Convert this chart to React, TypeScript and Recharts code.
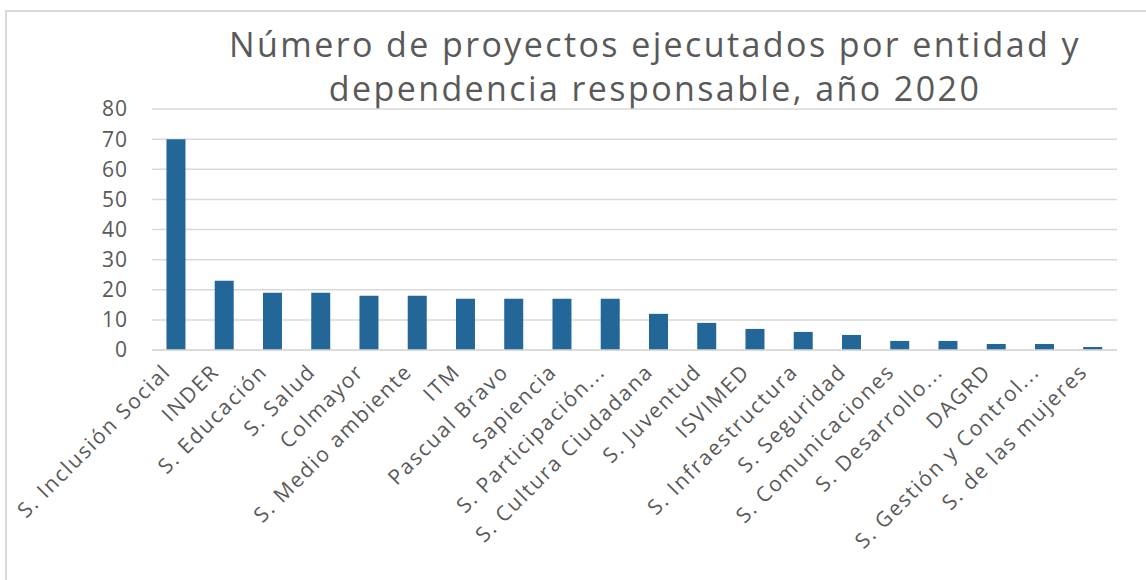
import { BarChart, Bar, XAxis, YAxis, CartesianGrid } from 'recharts';

const categories = [
  'S. Inclusión Social',
  'INDER',
  'S. Educación',
  'S. Salud',
  'Colmayor',
  'S. Medio ambiente',
  'ITM',
  'Pascual Bravo',
  'Sapiencia',
  'S. Participación...',
  'S. Cultura Ciudadana',
  'S. Juventud',
  'ISVIMED',
  'S. Infraestructura',
  'S. Seguridad',
  'S. Comunicaciones',
  'S. Desarrollo...',
  'DAGRD',
  'S. Gestión y Control...',
  'S. de las mujeres',
];

const proyectos = [70, 23, 19, 19, 18, 18, 17, 17, 17, 17, 12, 9, 7, 6, 5, 3, 3, 2, 2, 1];

const yTicks = [0, 10, 20, 30, 40, 50, 60, 70, 80];

const titleLines = [
  'Número de proyectos ejecutados por entidad y',
  'dependencia responsable, año 2020',
];

const data = categories.map((name, i) => ({ name, value: proyectos[i] }));

const font = '"Open Sans", "DejaVu Sans", sans-serif';
const textColor = '#595959';

// rotated category label, anchored at its end under the bar
function AngledTick(props: any) {
  const { x, y, payload } = props;
  const ax = x - 4;
  const ay = y + 15;
  return (
    <text
      x={ax}
      y={ay}
      transform={`rotate(-45, ${ax}, ${ay})`}
      textAnchor="end"
      fill={textColor}
      fontSize={21}
      letterSpacing={1.8}
      fontFamily={font}
    >
      {payload.value}
    </text>
  );
}

export default function App() {
  return (
    <div
      style={{
        position: 'fixed',
        left: 0,
        top: 0,
        width: 1146,
        height: 580,
        overflow: 'hidden',
        background: '#fff',
      }}
    >
      <div
        style={{
          position: 'absolute',
          left: 5,
          top: 10,
          width: 1300,
          height: 700,
          border: '2px solid #d9d9d9',
        }}
      />
      <div
        style={{
          position: 'absolute',
          left: 195,
          top: 22,
          width: 920,
          textAlign: 'center',
          fontFamily: font,
          fontSize: 34,
          letterSpacing: 2.4,
          lineHeight: '44px',
          color: textColor,
        }}
      >
        {titleLines.map((t) => (
          <div key={t}>{t}</div>
        ))}
      </div>
      <div style={{ position: 'absolute', left: 0, top: 0 }}>
        <BarChart
          width={1146}
          height={580}
          data={data}
          margin={{ top: 109, right: 29, bottom: 0, left: 0 }}
          barCategoryGap="30%"
        >
          <CartesianGrid vertical={false} stroke="#d9d9d9" strokeWidth={1.5} />
          <XAxis
            dataKey="name"
            interval={0}
            height={230}
            tick={<AngledTick />}
            tickLine={false}
            axisLine={{ stroke: '#d9d9d9', strokeWidth: 1.5 }}
          />
          <YAxis
            width={152}
            domain={[0, 80]}
            ticks={yTicks}
            tickLine={false}
            axisLine={false}
            tickSize={0}
            tickMargin={24}
            tick={{ fill: textColor, fontSize: 21, fontFamily: font, letterSpacing: 1 }}
          />
          <Bar dataKey="value" fill="#236799" isAnimationActive={false} />
        </BarChart>
      </div>
    </div>
  );
}
